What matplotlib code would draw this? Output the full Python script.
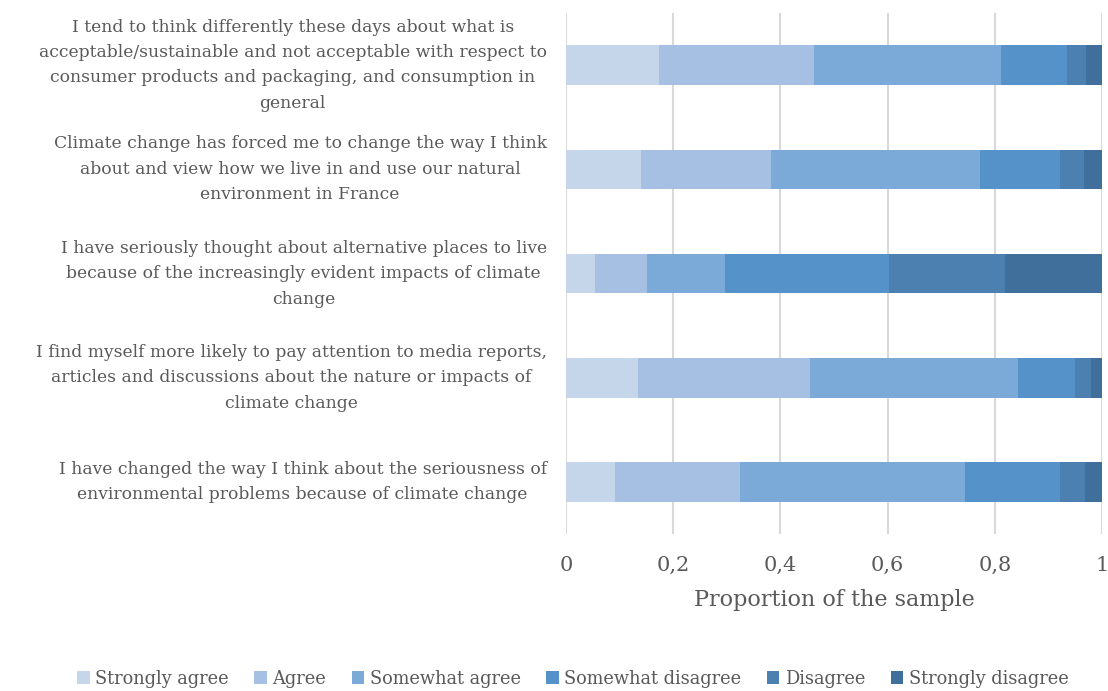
import numpy as np
import matplotlib
matplotlib.use("Agg")
import matplotlib.pyplot as plt
from matplotlib.ticker import FuncFormatter

plt.rcParams['font.family'] = ['DejaVu Serif']

statements = [
    "I tend to think differently these days about what is\n"
    "acceptable/sustainable and not acceptable with respect to\n"
    "consumer products and packaging, and consumption in\n"
    "general",
    "Climate change has forced me to change the way I think\n"
    "about and view how we live in and use our natural\n"
    "environment in France",
    "I have seriously thought about alternative places to live\n"
    "because of the increasingly evident impacts of climate\n"
    "change",
    "I find myself more likely to pay attention to media reports,\n"
    "articles and discussions about the nature or impacts of\n"
    "climate change",
    "I have changed the way I think about the seriousness of\n"
    "environmental problems because of climate change",
]

responses = ["Strongly agree", "Agree", "Somewhat agree",
             "Somewhat disagree", "Disagree", "Strongly disagree"]

strongly_agree    = [0.174, 0.139, 0.054, 0.134, 0.091]
agree             = [0.288, 0.243, 0.096, 0.321, 0.233]
somewhat_agree    = [0.349, 0.390, 0.147, 0.388, 0.421]
somewhat_disagree = [0.124, 0.149, 0.306, 0.107, 0.176]
disagree          = [0.036, 0.046, 0.217, 0.030, 0.048]
strongly_disagree = [0.029, 0.033, 0.180, 0.020, 0.031]

series = [strongly_agree, agree, somewhat_agree,
          somewhat_disagree, disagree, strongly_disagree]
colors = ['#c5d5ea', '#a5c0e3', '#7ba9d8', '#5592c9', '#4c80b0', '#416f9b']

text_color = '#595959'

fig = plt.figure(figsize=(11.08, 6.91), dpi=100)
ax = fig.add_axes([0.511, 0.227, 0.4835, 0.754])

y = np.arange(len(statements))[::-1]
left = np.zeros(len(statements))
for vals, name, c in zip(series, responses, colors):
    ax.barh(y, vals, left=left, height=0.38, color=c, label=name, zorder=3)
    left += np.array(vals)

ax.set_xlim(0, 1)
ax.set_ylim(-0.5, len(statements) - 0.5)
ax.set_xticks(np.arange(0, 1.01, 0.2))
ax.xaxis.set_major_formatter(FuncFormatter(
    lambda v, p: '0' if v == 0 else ('1' if abs(v - 1) < 1e-9 else f"{v:.1f}".replace('.', ','))))
ax.set_yticks(y)
ax.set_yticklabels(statements, fontsize=12.35, color=text_color, va='center',
                   ha='right', multialignment='center', linespacing=1.65)
ax.tick_params(axis='y', length=0, pad=14)
ax.tick_params(axis='x', length=0, pad=16, labelsize=15, labelcolor=text_color)
ax.grid(axis='x', color='#d9d9d9', linewidth=1.5, zorder=0)
for s in ax.spines.values():
    s.set_visible(False)
ax.set_xlabel("Proportion of the sample", fontsize=16, color=text_color, labelpad=10)

ax.legend(loc='center', bbox_to_anchor=(0.517, 0.018), bbox_transform=fig.transFigure,
          ncol=6, frameon=False, fontsize=12.8, labelcolor=text_color,
          handlelength=0.7, handleheight=0.7, handletextpad=0.3, columnspacing=1.45)

fig.savefig("out.png", dpi=100)
